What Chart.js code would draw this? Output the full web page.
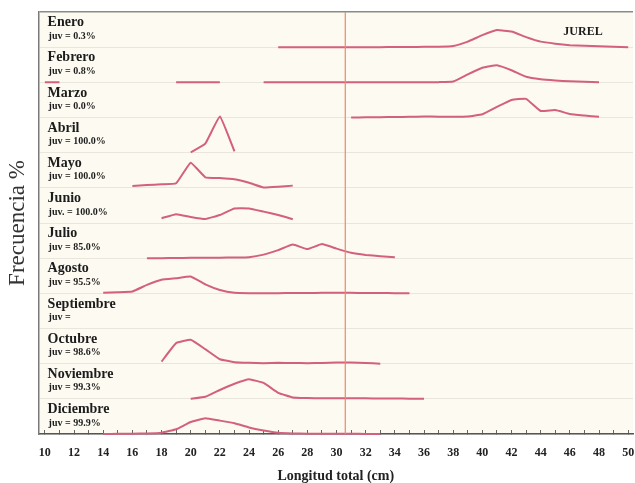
<!DOCTYPE html>
<html>
<head>
<meta charset="utf-8">
<title>Jurel - Frecuencia de longitudes por mes</title>
<script src="https://cdn.jsdelivr.net/npm/chart.js@4/dist/chart.umd.min.js"></script>
<style>
  html, body { margin: 0; padding: 0; background: #ffffff; }
  #wrap { width: 635px; height: 483px; position: relative; }
</style>
</head>
<body>
<div id="wrap"><canvas id="chart" width="635" height="483"></canvas></div>
<script>
// Months, top to bottom
const months = ['Enero', 'Febrero', 'Marzo', 'Abril', 'Mayo', 'Junio',
                'Julio', 'Agosto', 'Septiembre', 'Octubre', 'Noviembre', 'Diciembre'];

// Share of juveniles per month
const juvLabels = ['juv = 0.3%', 'juv = 0.8%', 'juv = 0.0%', 'juv = 100.0%', 'juv = 100.0%',
                   'juv. = 100.0%', 'juv = 85.0%', 'juv = 95.5%', 'juv =', 'juv = 98.6%',
                   'juv = 99.3%', 'juv = 99.9%'];

// First length class (cm) of each monthly series; classes step by 1 cm
const firstLength = [26, 10, 31, 20, 16, 18, 17, 14, 0, 18, 20, 14];

// Frequency (%) by length class; null = no sample in that class
const freqEnero = [0, 0, 0, 0, 0, 0, 0, 0, 0.2, 0.2, 0.3, 0.4, 1.2, 5.5, 12, 17, 15.5, 10, 5.5, 3.5, 2, 1.3, 0.8, 0.4, 0];
const freqFebrero = [0, 0, null, null, null, null, null, null, null, 0, 0, 0, 0, null, null,
                     0, 0, 0, 0, 0, 0, 0, 0, 0, 0, 0, 0.1, 0.2, 0.8, 8, 14.5, 17, 12, 5.5, 3, 1.8, 1, 0.5, 0];
const freqMarzo = [0, 0.2, 0.3, 0.5, 0.7, 1, 0.8, 0.7, 1, 3.2, 10.5, 17.5, 18.5, 6.5, 7.4, 3.5, 2, 0.7];
const freqAbril = [0.3, 9, 36, 1.3];
const freqMayo = [1.8, 2.8, 3.5, 4.5, 25, 10.5, 9.8, 8.5, 5, 0.3, 1, 2.2];
const freqJunio = [4.8, 8.8, 6, 4, 8, 14.5, 14.5, 11.3, 8, 3.8];
const freqJulio = [0, 0, 0.2, 0.3, 0.4, 0.5, 0.7, 1, 3.5, 8, 13.5, 9, 14, 9.5, 5.3, 3.2, 2, 1];
const freqAgosto = [0.5, 1, 1.8, 8.4, 13.5, 15, 16.7, 9, 3.4, 0.5, 0.2, 0.2, 0.2, 0.3, 0.4, 0.5, 0.5, 0.5, 0.4, 0.3, 0.2, 0];
const freqSeptiembre = [];
const freqOctubre = [2, 20.4, 23.7, 14.4, 4.4, 1.5, 0.8, 0.4, 0.8, 0.6, 0.5, 0.7, 1.2, 1.2, 0.6, 0];
const freqNoviembre = [0, 2, 8.8, 15, 19.5, 15.8, 6, 1.4, 0.8, 0.5, 0.6, 0.6, 0.5, 0.4, 0.3, 0.2, 0];
const freqDiciembre = [0, 0.2, 0.3, 0.5, 1.3, 4.7, 12, 15.7, 13.3, 10.7, 6.5, 3.5, 1.2, 0.5, 0.3, 0.3, 0.2, 0.2, 0.1, 0];

const monthlyFreq = [freqEnero, freqFebrero, freqMarzo, freqAbril, freqMayo, freqJunio,
                     freqJulio, freqAgosto, freqSeptiembre, freqOctubre, freqNoviembre, freqDiciembre];

// Axis tick labels (cm); minor ticks every 1 cm
const tickLabels = [10, 12, 14, 16, 18, 20, 22, 24, 26, 28, 30, 32, 34, 36, 38, 40, 42, 44, 46, 48, 50];
const minorTicks = [];
for (let v = 10; v <= 50; v++) minorTicks.push(v);

// Reference length marked with a vertical line (cm)
const refLength = 30.6;
const speciesName = 'JUREL';

// Each month sits on its own strip of PANEL % height
const PANEL = 35;
const baselineOf = i => (months.length - 1 - i) * PANEL;

const SERIF = "'Liberation Serif', 'Times New Roman', serif";
const LINE = '#d2607e';

const datasets = monthlyFreq.map((arr, i) => ({
  label: months[i],
  data: arr.map((f, k) => ({ x: firstLength[i] + k, y: f === null ? null : baselineOf(i) + f })),
  borderColor: LINE,
  borderWidth: 2,
  pointRadius: 0,
  tension: 0.1,
  spanGaps: false,
  clip: 6
}));

datasets.unshift({
  label: 'ref',
  data: [{ x: refLength, y: 0 }, { x: refLength, y: months.length * PANEL }],
  borderColor: '#f08868',
  borderWidth: 1.2,
  pointRadius: 0,
  clip: 0
});

// Cream panel behind the strips
const panelBackground = {
  id: 'panelBackground',
  beforeDraw(chart) {
    const { ctx, chartArea: a } = chart;
    ctx.save();
    ctx.fillStyle = '#fcfaf1';
    ctx.fillRect(a.left, a.top, a.right - a.left, a.bottom - a.top);
    ctx.restore();
  }
};

// Month names, juvenile shares and species name
const panelLabels = {
  id: 'panelLabels',
  afterDatasetsDraw(chart) {
    const { ctx, chartArea: a, scales: { y } } = chart;
    ctx.save();
    ctx.fillStyle = '#1c1c1c';
    ctx.textAlign = 'left';
    ctx.textBaseline = 'alphabetic';
    months.forEach((m, i) => {
      const base = y.getPixelForValue(baselineOf(i));
      ctx.font = 'bold 14px ' + SERIF;
      ctx.fillText(m, a.left + 9, base - 21);
      ctx.font = 'bold 10px ' + SERIF;
      ctx.fillText(juvLabels[i], a.left + 10, base - 8.5);
    });
    ctx.font = 'bold 12px ' + SERIF;
    ctx.textAlign = 'center';
    ctx.fillText(speciesName, a.right - 50, a.top + 23);
    ctx.restore();
  }
};

new Chart(document.getElementById('chart'), {
  type: 'line',
  data: { datasets },
  options: {
    responsive: false,
    devicePixelRatio: 1,
    animation: false,
    layout: { padding: { left: 4, right: 2, top: 12, bottom: 0 } },
    plugins: { legend: { display: false }, tooltip: { enabled: false } },
    scales: {
      x: {
        type: 'linear',
        position: 'bottom',
        min: 9.57,
        max: 50.33,
        afterBuildTicks: scale => { scale.ticks = minorTicks.map(v => ({ value: v })); },
        afterFit: scale => { scale.height = 49; scale.paddingLeft = 0; scale.paddingRight = 0; },
        ticks: {
          autoSkip: false,
          maxRotation: 0,
          minRotation: 0,
          padding: 16,
          color: '#222',
          font: { family: SERIF, size: 12, weight: 'bold' },
          callback: v => tickLabels.includes(v) ? String(v) : ''
        },
        grid: { display: true, drawOnChartArea: false, drawTicks: true, tickLength: -4, color: '#666', lineWidth: 1 },
        border: { display: true, color: '#555', width: 1.5 },
        title: {
          display: true,
          text: 'Longitud total (cm)',
          color: '#222',
          font: { family: SERIF, size: 14, weight: 'bold' },
          padding: { top: 8, bottom: -2 }
        }
      },
      y: {
        type: 'linear',
        min: 0,
        max: months.length * PANEL,
        ticks: { display: false, stepSize: PANEL },
        grid: {
          display: true,
          drawTicks: false,
          color: c => c.tick && c.tick.value === months.length * PANEL ? '#8a8a8a' : 'rgba(170,165,150,0.22)',
          lineWidth: c => c.tick && c.tick.value === months.length * PANEL ? 1.5 : 1
        },
        border: { display: true, color: '#7a7a7a', width: 1.5 },
        title: {
          display: true,
          text: 'Frecuencia %',
          color: '#333',
          font: { family: SERIF, size: 23, weight: 'normal' },
          padding: { top: 0, bottom: 7 }
        }
      }
    }
  },
  plugins: [panelBackground, panelLabels]
});
</script>
</body>
</html>
